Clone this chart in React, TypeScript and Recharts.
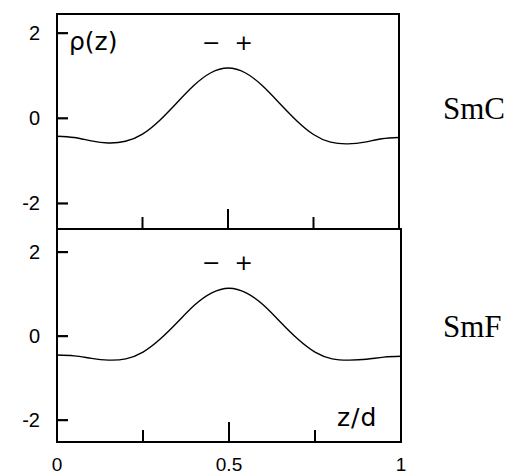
import { LineChart, Line, XAxis, YAxis, ReferenceArea } from "recharts";

const zValues = [0, 0.05, 0.1, 0.15, 0.2, 0.25, 0.3, 0.35, 0.4, 0.45, 0.5, 0.55, 0.6, 0.65, 0.7, 0.75, 0.8, 0.85, 0.9, 0.95, 1];
const smcRho = [-0.42, -0.45, -0.53, -0.58, -0.54, -0.37, -0.05, 0.36, 0.77, 1.07, 1.18, 1.07, 0.77, 0.36, -0.05, -0.38, -0.56, -0.6, -0.56, -0.48, -0.45];
const smfRho = [-0.45, -0.47, -0.53, -0.57, -0.54, -0.38, -0.07, 0.33, 0.74, 1.03, 1.14, 1.03, 0.74, 0.33, -0.07, -0.38, -0.54, -0.57, -0.55, -0.5, -0.48];

const yTicks = [-2, 0, 2];
const xTicks = [0, 0.25, 0.5, 0.75, 1];
const xLabelTicks = [0, 0.5, 1];

const smcData = zValues.map((z, i) => ({ z, rho: smcRho[i] }));
const smfData = zValues.map((z, i) => ({ z, rho: smfRho[i] }));

const labelFont = "'Liberation Sans', Arial, sans-serif";

// y tick: label outside, short line pointing into the plot
const YTick = (props: any) => {
  const { x, y, payload } = props;
  const v = payload.value;
  return (
    <g>
      <line x1={x} x2={x + 11} y1={y} y2={y} stroke="#000" strokeWidth={2.2} />
      <text x={x - 17} y={y + 7} textAnchor="end" fontSize={20} fontFamily={labelFont} fill="#000">
        {v === -2 ? "-2" : String(v)}
      </text>
    </g>
  );
};

const makeXTick = (showLabels: boolean) => (props: any) => {
  const { x, y, payload } = props;
  const v = payload.value;
  const len = v === 0.5 ? 20 : v === 0.25 || v === 0.75 ? 12 : 0;
  return (
    <g>
      {len > 0 && <line x1={x} x2={x} y1={y} y2={y - len} stroke="#000" strokeWidth={2} />}
      {showLabels && xLabelTicks.includes(v) && (
        <text x={x} y={y + 29} textAnchor="middle" fontSize={19} fontFamily={labelFont} fill="#000">
          {v === 0.5 ? "0.5" : String(v)}
        </text>
      )}
    </g>
  );
};

type PanelProps = {
  data: { z: number; rho: number }[];
  domain: [number, number];
  margin: { top: number; right: number; bottom: number; left: number };
  showXLabels: boolean;
};

const Panel = ({ data, domain, margin, showXLabels }: PanelProps) => (
  <LineChart width={510} height={476} data={data} margin={margin} style={{ overflow: "visible" }}>
    <XAxis
      dataKey="z"
      type="number"
      domain={[0, 1]}
      ticks={xTicks}
      axisLine={false}
      tickLine={false}
      tickSize={0}
      tickMargin={0}
      tick={makeXTick(showXLabels)}
      height={showXLabels ? 30 : 2}
      interval={0}
    />
    <YAxis
      type="number"
      domain={domain}
      allowDataOverflow
      ticks={yTicks}
      width={40}
      axisLine={false}
      tickLine={false}
      tickSize={0}
      tickMargin={0}
      tick={<YTick />}
      interval={0}
    />
    <ReferenceArea
      x1={0}
      x2={1}
      y1={domain[0]}
      y2={domain[1]}
      fill="none"
      fillOpacity={0}
      stroke="#000"
      strokeWidth={2}
    />
    <Line
      dataKey="rho"
      type="natural"
      stroke="#000"
      strokeWidth={1.4}
      dot={false}
      isAnimationActive={false}
    />
  </LineChart>
);

const txt = (style: React.CSSProperties) => ({
  position: "absolute" as const,
  color: "#000",
  lineHeight: 1,
  whiteSpace: "nowrap" as const,
  ...style,
});

export default function App() {
  return (
    <div style={{ position: "absolute", left: 0, top: 0, width: 510, height: 476, background: "#fff", overflow: "hidden" }}>
      <div style={{ position: "absolute", left: 0, top: 0 }}>
        <Panel data={smcData} domain={[-2.6, 2.45]} margin={{ top: 14, right: 111, bottom: 245, left: 17 }} showXLabels={false} />
      </div>
      <div style={{ position: "absolute", left: 0, top: 0 }}>
        <Panel data={smfData} domain={[-2.52, 2.55]} margin={{ top: 229, right: 109, bottom: 4, left: 17 }} showXLabels />
      </div>
      <div style={txt({ left: 69, top: 29, fontSize: 25, fontFamily: "'DejaVu Sans', sans-serif" })}>ρ(z)</div>
      <div style={txt({ left: 202, top: 32, fontSize: 22, fontFamily: "'DejaVu Sans', sans-serif" })}>−&nbsp;&nbsp;+</div>
      <div style={txt({ left: 202, top: 252, fontSize: 22, fontFamily: "'DejaVu Sans', sans-serif" })}>−&nbsp;&nbsp;+</div>
      <div style={txt({ left: 337, top: 405, fontSize: 25, letterSpacing: 1, fontFamily: "'DejaVu Sans', sans-serif" })}>z/d</div>
      <div style={txt({ left: 443, top: 93, fontSize: 31, fontFamily: "'Liberation Serif', serif" })}>SmC</div>
      <div style={txt({ left: 443, top: 311, fontSize: 31, fontFamily: "'Liberation Serif', serif" })}>SmF</div>
    </div>
  );
}
